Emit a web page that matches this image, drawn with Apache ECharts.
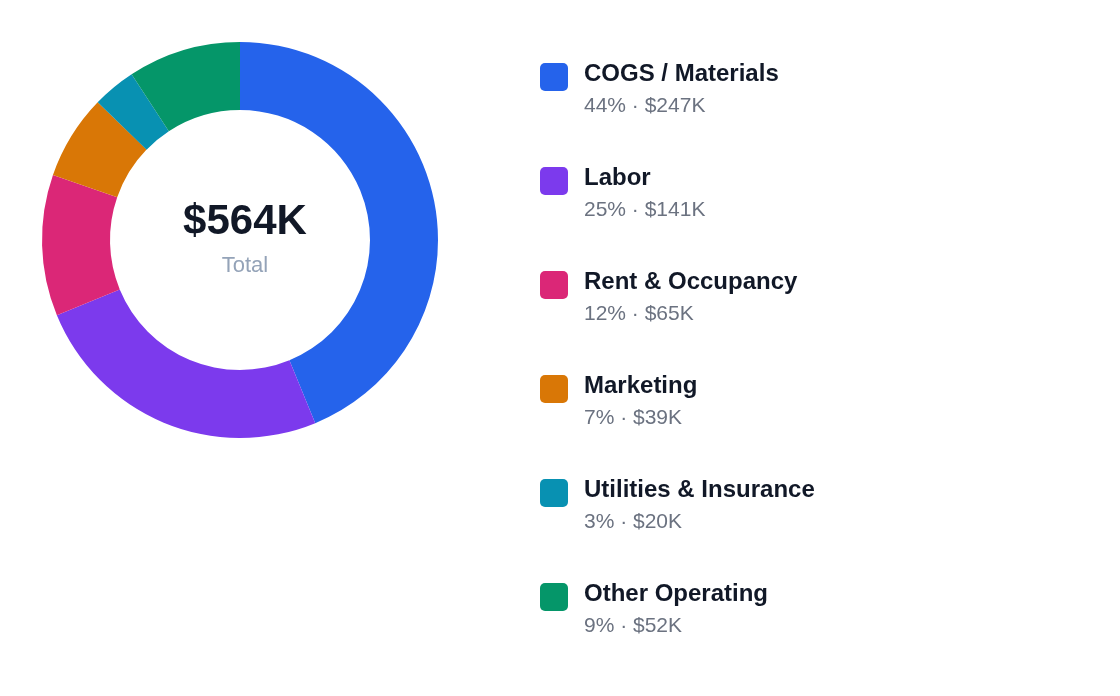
<!DOCTYPE html>
<html><head><meta charset="utf-8">
<script src="https://cdn.jsdelivr.net/npm/echarts@6/dist/echarts.min.js"></script>
<style>html,body{margin:0;background:#fff}#c{width:1120px;height:696px}</style>
</head><body><div id="c"></div>
<script>
const categories = ['COGS / Materials','Labor','Rent & Occupancy','Marketing','Utilities & Insurance','Other Operating'];
const values = [247,141,65,39,20,52];
const percents = ['44%','25%','12%','7%','3%','9%'];
const colors = ['#2563eb','#7c3aed','#db2777','#d97706','#0891b2','#059669'];
const total = values.reduce((a,b)=>a+b,0);
const font = 'Helvetica, Arial, "Liberation Sans", sans-serif';
const graphic = [];
categories.forEach((c,i)=>{
  const y = 62 + i*104;
  graphic.push({type:'rect',left:540,top:y+1,shape:{width:28,height:28,r:5},style:{fill:colors[i]}});
  graphic.push({type:'text',left:584,top:y,style:{text:c,font:'bold 24px '+font,fill:'#111827'}});
  graphic.push({type:'text',left:584,top:y+34,style:{text:percents[i]+' · $'+values[i]+'K',font:'21px '+font,fill:'#6b7280'}});
});
const chart = echarts.init(document.getElementById('c'));
chart.setOption({
  animation:false,
  graphic,
  title:{text:'$'+total+'K',subtext:'Total',left:240,top:196,textAlign:'center',itemGap:12,
    textStyle:{fontSize:42,fontWeight:'bold',color:'#111827',fontFamily:font},
    subtextStyle:{fontSize:22,color:'#94a3b8',fontFamily:font}},
  series:[{type:'pie',center:[240,240],radius:[130,198],startAngle:90,clockwise:true,
    label:{show:false},labelLine:{show:false},silent:true,
    itemStyle:{borderWidth:0},
    data:categories.map((c,i)=>({name:c,value:values[i],itemStyle:{color:colors[i]}}))}]
});
</script></body></html>
